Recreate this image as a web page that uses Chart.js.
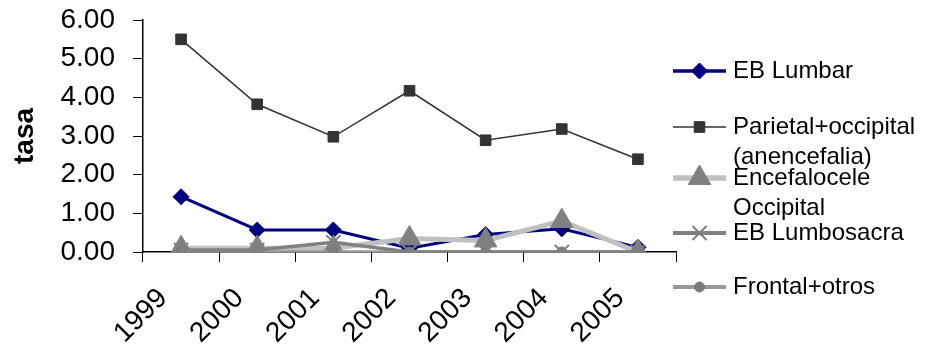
<!DOCTYPE html>
<html>
<head>
<meta charset="utf-8">
<script src="https://cdn.jsdelivr.net/npm/chart.js@4/dist/chart.umd.min.js"></script>
<style>
  html, body { margin: 0; padding: 0; background: #fff; }
  #wrap { width: 927px; height: 352px; }
</style>
</head>
<body>
<div id="wrap"><canvas id="c" width="927" height="352"></canvas></div>
<script>
// Years on the category axis
const years = ['1999', '2000', '2001', '2002', '2003', '2004', '2005'];

// Rates per series
const ebLumbar = [1.43, 0.57, 0.57, 0.10, 0.45, 0.60, 0.12];
const parietalOccipital = [5.50, 3.82, 2.98, 4.17, 2.89, 3.18, 2.40];
const encefaloceleOccipital = [0.10, 0.10, 0.10, 0.35, 0.30, 0.80, 0.00];
const ebLumbosacra = [0.05, 0.05, 0.25, 0.00, 0.00, 0.00, 0.00];
const frontalOtros = [0.00, 0.00, 0.00, 0.00, 0.00, 0.00, 0.00];

// Legend text, one entry per line
const legendLines = [
  ['EB Lumbar'],
  ['Parietal+occipital', '(anencefalia)'],
  ['Encefalocele', 'Occipital'],
  ['EB Lumbosacra'],
  ['Frontal+otros']
];

const yTicks = [0, 1, 2, 3, 4, 5, 6];
const yTitle = 'tasa';

const FONT = "'Liberation Sans', Arial, sans-serif";

const datasets = [
  {
    label: legendLines[0].join(' '), data: ebLumbar,
    borderColor: '#000080', borderWidth: 3,
    pointStyle: 'rectRot', pointRadius: 8, pointBackgroundColor: '#000080', pointBorderColor: '#000080', pointBorderWidth: 1,
    order: 5
  },
  {
    label: legendLines[1].join(' '), data: parietalOccipital,
    borderColor: '#333333', borderWidth: 1.5,
    pointStyle: 'rect', pointRadius: 7.5, pointBackgroundColor: '#333333', pointBorderColor: '#333333', pointBorderWidth: 1,
    order: 4
  },
  {
    label: legendLines[2].join(' '), data: encefaloceleOccipital,
    borderColor: '#C0C0C0', borderWidth: 5,
    pointStyle: 'triangle', pointRadius: 13, pointBackgroundColor: '#808080', pointBorderColor: '#808080', pointBorderWidth: 1,
    order: 3
  },
  {
    label: legendLines[3].join(' '), data: ebLumbosacra,
    borderColor: '#808080', borderWidth: 3.5,
    pointStyle: 'crossRot', pointRadius: 10, pointBackgroundColor: '#808080', pointBorderColor: '#808080', pointBorderWidth: 2,
    order: 1
  },
  {
    label: legendLines[4].join(' '), data: frontalOtros,
    borderColor: '#999999', borderWidth: 3.5,
    pointStyle: 'circle', pointRadius: 5, pointBackgroundColor: '#7a7a7a', pointBorderColor: '#7a7a7a', pointBorderWidth: 1,
    order: 2
  }
];

// Legend drawn at the right of the plot, with wrapped labels
const sideLegend = {
  id: 'sideLegend',
  afterDraw(chart) {
    const ctx = chart.ctx;
    const rowsY = [71, 127, 178, 233, 287];
    const x0 = 673, x1 = 726, tx = 733, lineGap = 30;
    ctx.save();
    chart.data.datasets.forEach((ds, i) => {
      const y = rowsY[i];
      ctx.strokeStyle = ds.borderColor;
      ctx.lineWidth = ds.borderWidth + (ds.borderWidth > 2 ? 0.5 : 0);
      ctx.beginPath();
      ctx.moveTo(x0, y);
      ctx.lineTo(x1, y);
      ctx.stroke();
      ctx.fillStyle = ds.pointBackgroundColor;
      ctx.strokeStyle = ds.pointBorderColor;
      ctx.lineWidth = ds.pointBorderWidth;
      Chart.helpers.drawPoint(ctx, {
        pointStyle: ds.pointStyle,
        radius: ds.pointRadius,
        borderWidth: ds.pointBorderWidth,
        rotation: 0
      }, (x0 + x1) / 2, y);
      ctx.fillStyle = '#000';
      ctx.font = '24px ' + FONT;
      ctx.textAlign = 'left';
      ctx.textBaseline = 'middle';
      legendLines[i].forEach((t, k) => ctx.fillText(t, tx, y + k * lineGap));
    });
    ctx.restore();
  }
};

new Chart(document.getElementById('c'), {
  type: 'line',
  data: { labels: years, datasets },
  options: {
    responsive: false,
    animation: false,
    layout: { padding: { left: 0, right: 251, top: 20, bottom: 0 } },
    plugins: {
      legend: { display: false },
      tooltip: { enabled: false }
    },
    elements: { line: { tension: 0 } },
    scales: {
      x: {
        type: 'category',
        offset: true,
        grid: { offset: true, drawOnChartArea: false, drawTicks: true, tickLength: 10, color: '#000', lineWidth: 1 },
        border: { color: '#000', width: 1.5 },
        ticks: {
          color: '#000', font: { family: FONT, size: 28 }, autoSkip: false,
          maxRotation: 45, minRotation: 45, padding: 20, labelOffset: -18
        },
        afterFit(scale) {
          scale.height = 100;
          scale.paddingLeft = 0; scale.paddingRight = 0;
          scale.paddingTop = 0; scale.paddingBottom = 0;
        }
      },
      y: {
        min: 0, max: 6,
        afterBuildTicks(scale) { scale.ticks = yTicks.map(v => ({ value: v })); },
        grid: { drawOnChartArea: false, drawTicks: true, tickLength: 10, color: '#000', lineWidth: 1 },
        border: { color: '#000', width: 1.5 },
        ticks: {
          color: '#000', font: { family: FONT, size: 28 }, padding: 18, autoSkip: false,
          callback: v => Number(v).toFixed(2)
        },
        title: {
          display: true, text: yTitle, color: '#000',
          font: { family: FONT, size: 28, weight: 'bold' }, padding: { top: 8, bottom: 0 }
        },
        afterFit(scale) {
          scale.width = 143;
          scale.paddingTop = 0; scale.paddingBottom = 0;
          scale.paddingLeft = 0; scale.paddingRight = 0;
        }
      }
    }
  },
  plugins: [sideLegend]
});
</script>
</body>
</html>
